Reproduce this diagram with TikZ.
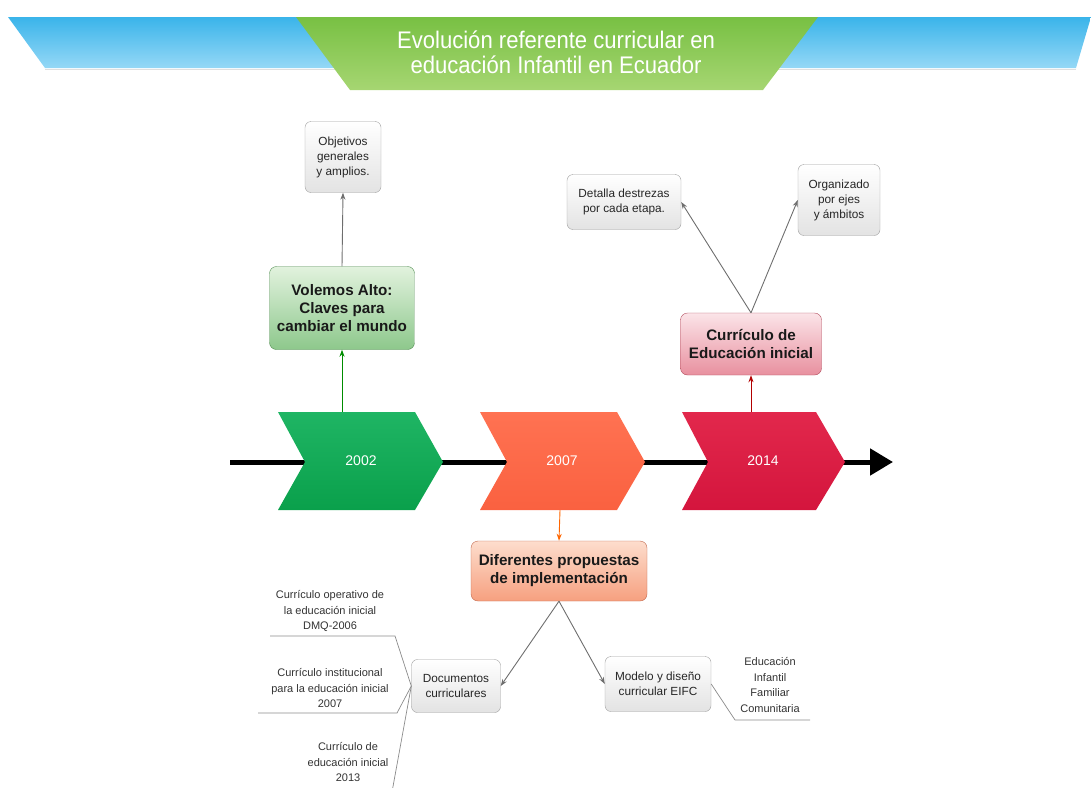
\documentclass[tikz,border=0pt]{standalone}
\usepackage{fontspec}
\setmainfont{Liberation Sans}
\newfontfamily\hdrfont[FakeStretch=0.92]{Liberation Sans}
\usetikzlibrary{arrows.meta,calc}
\definecolor{blueT}{HTML}{3AB4EA}
\definecolor{blueB}{HTML}{95D8F6}
\definecolor{greenT}{HTML}{78C043}
\definecolor{greenB}{HTML}{A6D672}
\definecolor{c02T}{HTML}{1FB564}
\definecolor{c02B}{HTML}{0AA04B}
\definecolor{c07T}{HTML}{FF7252}
\definecolor{c07B}{HTML}{FA6140}
\definecolor{c14T}{HTML}{E2284C}
\definecolor{c14B}{HTML}{D4153D}
\definecolor{gline}{HTML}{6E6E6E}
\definecolor{thinline}{HTML}{8A8A8A}
\definecolor{volT}{HTML}{E2F2DE}
\definecolor{volB}{HTML}{8DC88B}
\definecolor{volD}{HTML}{4C8A4C}
\definecolor{curT}{HTML}{FBE4E8}
\definecolor{curB}{HTML}{E8909F}
\definecolor{curD}{HTML}{B04A5A}
\definecolor{difT}{HTML}{FDDDCD}
\definecolor{difB}{HTML}{F6A07F}
\definecolor{difD}{HTML}{C0654A}
\tikzset{
  x=1pt, y=-1pt,
  smallbox/.style={draw=gray!75, rounded corners=6pt, top color=white, bottom color=gray!22,
    align=center, inner sep=2pt, font=\fontsize{11.8}{15}\selectfont, text=black!85},
  bigbox/.style={rounded corners=7pt, align=center, inner sep=2pt,
    font=\fontsize{15.2}{18}\selectfont\bfseries, text=black!90},
  plain/.style={align=center, inner sep=1pt, font=\fontsize{11}{15.5}\selectfont, text=black!80},
  yr/.style={text=white, font=\fontsize{14}{16}\selectfont, inner sep=1pt},
  conn/.style={draw=gline, line width=0.9pt, -{Stealth[length=7pt,width=5pt]}},
  fish/.style={draw=thinline, line width=0.7pt},
}
\begin{document}
\begin{tikzpicture}
\useasboundingbox (0,0) rectangle (1091,787);
\clip (0,0) rectangle (1091,787);
% header
\shade[top color=blueT, bottom color=blueB] (8,17) -- (1091,17) -- (1076,68) -- (45,68) -- cycle;
\draw[gray!25, line width=1pt] (45,69.5) -- (1076,69.5);
\shade[top color=greenT, bottom color=greenB] (296,17) -- (818,17) -- (763,90) -- (350,90) -- cycle;
\node[text=white, font=\hdrfont\fontsize{24}{25}\selectfont, align=center] (title) at (556,52)
  {Evolución referente curricular en\\educación Infantil en Ecuador};
% timeline
\coordinate (tl0) at (230,462);
\coordinate (tl1) at (893,462);
\draw[line width=5pt, -{Triangle[length=23pt,width=26pt]}] (tl0) -- (tl1);
% chevrons
\shade[top color=c02T, bottom color=c02B] (278,412) -- (415,412) -- (443,462) -- (415,510) -- (278,510) -- (305,462) -- cycle;
\shade[top color=c07T, bottom color=c07B] (480,412) -- (617,412) -- (645,462) -- (617,510) -- (480,510) -- (507,462) -- cycle;
\shade[top color=c14T, bottom color=c14B] (682,412) -- (816,412) -- (845,462) -- (816,510) -- (682,510) -- (708,462) -- cycle;
\node[yr] (y02) at (361,461) {2002};
\node[yr] (y07) at (562,461) {2007};
\node[yr] (y14) at (763,461) {2014};
\coordinate (c02) at (342,412);
\coordinate (c07) at (560,510);
\coordinate (c14) at (751,412);
% upper boxes
\node[smallbox, minimum width=76pt, minimum height=71pt] (obj) at (343,157) {Objetivos\\generales\\y amplios.};
\node[bigbox, draw=volD, top color=volT, bottom color=volB,
  minimum width=145pt, minimum height=83pt] (vol) at (342,308) {Volemos Alto:\\Claves para\\cambiar el mundo};
\node[smallbox, minimum width=114pt, minimum height=55pt] (det) at (624,202) {Detalla destrezas\\por cada etapa.};
\node[smallbox, minimum width=82pt, minimum height=71pt] (org) at (839,200) {Organizado\\por ejes\\y ámbitos};
\node[bigbox, draw=curD, top color=curT, bottom color=curB,
  minimum width=141pt, minimum height=62pt] (cur) at (751,344) {Currículo de\\Educación inicial};
% lower boxes
\node[bigbox, draw=difD, top color=difT, bottom color=difB,
  minimum width=176pt, minimum height=60pt] (dif) at (559,571) {Diferentes propuestas\\de implementación};
\node[smallbox, minimum width=89pt, minimum height=53pt] (doc) at (456,686) {Documentos\\curriculares};
\node[smallbox, minimum width=106pt, minimum height=55pt] (mod) at (658,684) {Modelo y diseño\\curricular EIFC};
% connectors
\draw[conn, draw=green!55!black] (c02) -- (vol.south);
\draw[conn] (vol.north) -- (obj.south);
\draw[conn, draw=red!70!black] (c14) -- (cur.south);
\draw[conn] (cur.north) -- (det.east);
\draw[conn] (cur.north) -- (org.west);
\draw[conn, draw=orange!80!red] (c07) -- (dif.north);
\draw[conn] (dif.south) -- (doc.east);
\draw[conn] (dif.south) -- (mod.west);
% fishbone labels
\node[plain] (t1) at (330,611) {Currículo operativo de\\la educación inicial\\DMQ-2006};
\node[plain] (t2) at (330,688) {Currículo institucional\\para la educación inicial\\2007};
\node[plain] (t3) at (348,762) {Currículo de\\educación inicial\\2013};
\node[plain] (t4) at (770,685) {Educación\\Infantil\\Familiar\\Comunitaria};
\coordinate (f1a) at (395,636); \coordinate (f1b) at (270,636);
\coordinate (f2a) at (397,713); \coordinate (f2b) at (258,713);
\coordinate (f3a) at (392,792);
\coordinate (f4a) at (735,720); \coordinate (f4b) at (810,720);
\draw[fish] (doc.west) -- (f1a) -- (f1b);
\draw[fish] (doc.west) -- (f2a) -- (f2b);
\draw[fish] (doc.west) -- (f3a);
\draw[fish] (mod.east) -- (f4a) -- (f4b);
\end{tikzpicture}
\end{document}
